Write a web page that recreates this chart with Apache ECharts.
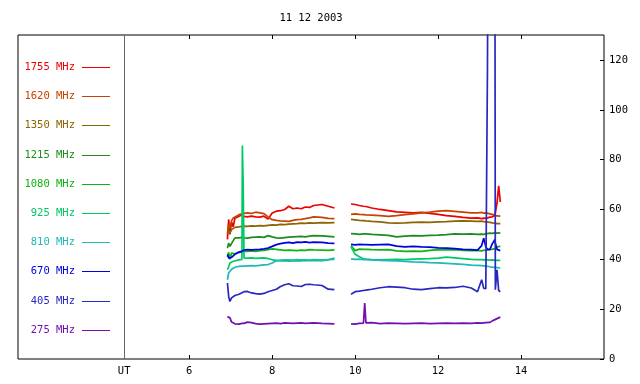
<!DOCTYPE html>
<html>
<head>
<meta charset="utf-8">
<style>html,body{margin:0;padding:0;background:#fff;}#c{width:640px;height:384px;}</style>
<script src="https://cdn.jsdelivr.net/npm/echarts@6/dist/echarts.min.js"></script>
</head>
<body>
<div id="c"></div>
<script>
const title = '11 12 2003';
const times = [6.92,6.95,6.98,7.02,7.06,7.10,7.20,7.27,7.28,7.30,7.32,7.40,7.50,7.60,7.70,7.80,7.90,8.00,8.10,8.20,8.30,8.40,8.50,8.60,8.70,8.80,8.90,9.00,9.20,9.35,9.50,
  9.70,
  9.90,10.00,10.10,10.20,10.23,10.26,10.40,10.60,10.80,11.00,11.20,11.40,11.60,11.80,12.00,12.20,12.40,12.60,12.80,12.95,13.05,13.10,13.15,13.19,13.20,13.25,13.30,13.37,13.38,13.42,13.46,13.50];

const f1755 = [48,56,50,55,53,56.5,57.3,57.9,57.5,57.3,57.2,57.0,57.3,57.0,56.9,57.3,56.2,58.6,59.3,59.5,60.0,61.3,60.3,60.6,60.3,61.0,60.8,61.6,62.0,61.3,60.6,
  null,
  62.2,62.0,61.6,61.3,61.0,61.2,60.6,60.0,59.5,59.0,58.8,58.6,58.8,58.4,58.0,57.5,57.2,56.8,56.5,56.6,56.3,56.5,56.4,56.8,56.8,56.9,57.0,57.8,58.5,62.5,69.5,63.0];
const f1620 = [50,54,52.5,55.5,56.6,57.0,57.9,58.2,58.0,58.3,58.4,58.6,58.4,58.9,58.6,58.3,57.0,55.9,55.6,55.4,55.3,55.2,55.6,55.9,56.0,56.3,56.6,57.0,56.8,56.4,56.3,
  null,
  58.0,58.2,58.0,57.9,57.6,57.8,57.7,57.5,57.2,57.5,57.9,58.2,58.6,58.9,59.3,59.5,59.2,58.9,58.6,58.6,58.8,58.5,58.6,58.3,58.3,58.2,58.0,57.7,57.7,57.4,57.6,57.3];
const f1350 = [50.5,51.5,50.5,51.9,52.3,52.8,53.0,53.2,53.1,53.2,53.3,53.2,53.4,53.3,53.5,53.4,53.6,53.8,53.7,54.0,53.9,54.1,54.2,54.3,54.5,54.4,54.6,54.5,54.7,54.6,54.7,
  null,
  56.0,55.8,55.6,55.5,55.3,55.4,55.2,55.0,54.6,54.5,54.6,54.8,54.9,54.8,55.0,55.1,55.3,55.4,55.3,55.2,55.3,55.1,55.0,55.0,54.9,54.8,54.6,54.5,54.5,54.3,54.2,54.3];
const f1215 = [44.5,46.5,45.2,46.0,47.5,48.6,48.6,48.8,48.6,48.7,48.6,48.5,48.8,48.9,49.0,48.8,49.5,49.0,48.6,48.5,48.7,48.9,49.0,49.1,49.2,49.0,49.3,49.5,49.4,49.2,49.0,
  null,
  50.3,50.2,50.0,50.2,50.1,50.2,50.0,49.8,49.6,49.0,49.3,49.5,49.4,49.6,49.7,49.9,50.2,50.1,50.2,50.0,50.1,50.0,50.2,50.3,50.3,50.5,50.4,50.6,50.6,50.5,50.7,50.6];
const f1080 = [41.0,42.8,40.0,42.5,41.8,42.2,43.0,43.2,43.0,43.3,43.2,43.2,43.4,43.2,43.5,43.6,43.9,44.2,44.0,43.8,43.6,43.7,43.6,43.5,43.7,43.6,43.9,43.8,43.7,43.6,43.8,
  null,
  45.5,43.5,44.1,44.0,43.9,44.0,43.9,43.8,43.9,43.4,43.2,43.3,43.2,43.6,43.9,43.8,43.9,43.6,43.5,43.6,43.4,43.6,43.7,43.8,43.8,43.9,44.0,44.3,44.3,45.0,44.5,45.2];
const f925 = [35.8,37.0,38.5,38.8,39.2,39.5,39.8,40.0,85.7,70.0,40.5,40.5,40.6,40.4,40.5,40.6,40.3,39.8,39.6,39.4,39.5,39.3,39.4,39.5,39.4,39.6,39.5,39.6,39.5,39.8,40.5,
  null,
  45.0,42.0,41.0,40.2,40.0,40.1,39.9,39.8,39.9,40.0,39.9,40.1,40.2,40.3,40.5,40.9,40.6,40.3,40.0,39.9,39.9,39.8,39.9,39.8,39.8,39.7,39.8,39.7,39.7,39.6,39.7,39.6];
const f810 = [31.8,34.5,35.0,36.0,36.5,36.8,37.2,37.3,37.2,37.4,37.3,37.4,37.5,37.4,37.6,37.8,37.9,38.5,39.4,39.7,39.8,39.8,39.7,39.9,39.8,39.8,39.7,39.9,39.8,39.9,40.0,
  null,
  40.2,40.0,40.1,39.9,39.8,39.9,39.8,39.6,39.5,39.4,39.2,39.0,38.9,38.7,38.6,38.4,38.2,38.0,37.7,37.6,37.5,37.4,37.3,37.2,37.2,37.0,36.9,36.8,36.8,36.7,36.6,36.5];
const f670 = [41.9,40.5,41.2,40.8,41.5,42.0,42.8,43.2,43.4,43.6,43.7,43.9,43.8,43.9,44.0,44.2,44.5,45.2,45.9,46.3,46.6,46.8,46.5,46.9,46.8,47.0,46.7,46.9,46.8,46.5,46.4,
  null,
  46.0,45.8,46.0,45.9,45.7,45.9,45.8,45.9,46.0,45.3,45.0,45.2,45.0,44.9,44.6,44.5,44.3,44.0,43.9,43.7,45.5,48.5,45.0,44.0,44.2,44.0,46.0,48.0,46.5,44.0,43.8,43.5];
const f405 = [30.5,25.1,23.1,24.5,25.1,25.5,26.0,26.6,27.1,26.8,27.0,27.1,26.5,26.2,26.0,26.3,27.0,27.5,28.0,29.1,29.8,30.2,29.4,29.3,29.1,29.9,30.0,29.8,29.5,28.0,27.8,
  null,
  26.0,27.0,27.2,27.5,27.8,27.6,28.0,28.6,29.0,28.8,28.6,28.0,27.8,28.2,28.6,28.5,28.7,29.2,28.5,27.0,31.8,28.4,28.2,116.6,160,160,160,160,27.8,35.8,27.5,27.0];
const f275 = [17.0,17.3,16.5,14.8,14.2,14.1,14.0,14.3,15.0,14.4,14.3,14.8,14.6,14.2,14.0,14.1,14.2,14.3,14.4,14.2,14.5,14.4,14.3,14.4,14.5,14.3,14.4,14.5,14.3,14.2,14.1,
  null,
  14.1,14.0,14.3,14.4,22.4,14.5,14.6,14.2,14.4,14.3,14.2,14.3,14.4,14.2,14.3,14.4,14.3,14.4,14.3,14.5,14.4,14.5,14.6,14.6,14.6,14.7,15.2,15.8,15.8,16.2,16.4,16.8];

const bandNames = ['1755 MHz','1620 MHz','1350 MHz','1215 MHz','1080 MHz','925 MHz','810 MHz','670 MHz','405 MHz','275 MHz'];
const bandColors = ['#ee0000','#c44400','#8c6400','#1c8c1c','#10b410','#00c864','#20b8b8','#0000e0','#2828c0','#7010b0'];
const bandValues = [f1755,f1620,f1350,f1215,f1080,f925,f810,f670,f405,f275];

const xTicks = [6, 8, 10, 12, 14];
const utPos = 4.43;
const yTicks = [0, 20, 40, 60, 80, 100, 120];

const FONT = '"DejaVu Sans Mono", monospace';
const FSIZE = 10.5;
const chart = echarts.init(document.getElementById('c'), null, {renderer: 'canvas'});

const series = bandValues.map((vals, k) => ({
  name: bandNames[k],
  type: 'line',
  data: times.map((t, i) => [t, vals[i]]),
  showSymbol: false,
  connectNulls: false,
  clip: true,
  lineStyle: {color: bandColors[k], width: 1.7},
  itemStyle: {color: bandColors[k]},
  animation: false,
  z: 2
}));
series[0].markLine = {
  silent: true, symbol: 'none', animation: false,
  label: {show: false},
  lineStyle: {color: '#666', type: 'solid', width: 1},
  data: [{xAxis: utPos}]
};

const graphics = [];
const legTop = 67, legStep = 29.2;
bandNames.forEach((n, k) => {
  const y = Math.round(legTop + k * legStep) + 0.5;
  graphics.push({type: 'text', x: 75, y: y, silent: true,
    style: {text: n, fill: bandColors[k], font: FSIZE + 'px ' + FONT, textAlign: 'right', textVerticalAlign: 'middle'}});
  graphics.push({type: 'line', silent: true,
    shape: {x1: 82, y1: y, x2: 110, y2: y},
    style: {stroke: bandColors[k], lineWidth: 1}});
});
graphics.push({type: 'text', x: 311, y: 18, silent: true,
  style: {text: title, fill: '#000', font: FSIZE + 'px ' + FONT, textAlign: 'center', textVerticalAlign: 'middle'}});

const tickStyle = {show: true, inside: true, length: 4, lineStyle: {color: '#000', width: 1}};
const xCommon = {
  type: 'value', min: 1.87, max: 16,
  axisLine: {show: false}, splitLine: {show: false}
};

chart.setOption({
  animation: false,
  backgroundColor: '#fff',
  grid: {left: 18, right: 36, top: 35, bottom: 25, show: true, borderColor: '#000', borderWidth: 1, backgroundColor: 'transparent'},
  xAxis: [
    Object.assign({}, xCommon, {
      position: 'bottom',
      axisTick: Object.assign({customValues: xTicks}, tickStyle),
      axisLabel: {show: true, customValues: [utPos].concat(xTicks), color: '#000', fontFamily: FONT, fontSize: FSIZE, margin: 7,
        formatter: v => (Math.abs(v - utPos) < 1e-6 ? 'UT' : String(v))}
    }),
    Object.assign({}, xCommon, {
      position: 'top',
      axisTick: Object.assign({customValues: xTicks}, tickStyle),
      axisLabel: {show: false}
    })
  ],
  yAxis: {
    type: 'value', position: 'right', min: 0, max: 130,
    axisLine: {show: false}, splitLine: {show: false},
    axisTick: Object.assign({customValues: yTicks}, tickStyle),
    axisLabel: {show: true, customValues: yTicks, color: '#000', fontFamily: FONT, fontSize: FSIZE, margin: 5}
  },
  graphic: graphics,
  series: series
});
</script>
</body>
</html>
